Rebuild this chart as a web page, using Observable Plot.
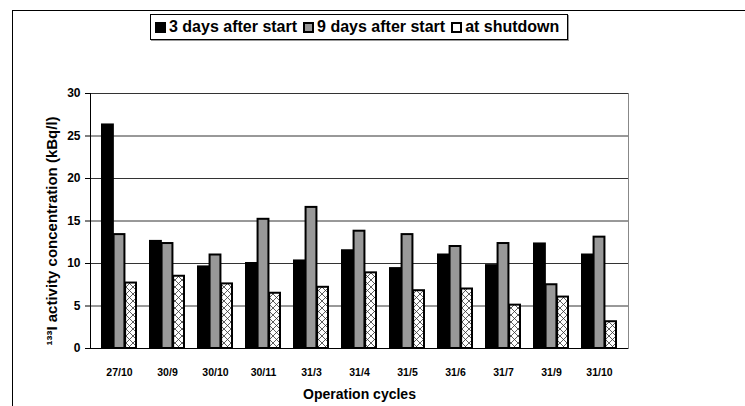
<!DOCTYPE html>
<html><head><meta charset="utf-8">
<script src="https://cdn.jsdelivr.net/npm/d3@7"></script>
<script src="https://cdn.jsdelivr.net/npm/@observablehq/plot@0.6"></script>
<style>
body{margin:0;background:#fff;font-family:"Liberation Sans",Arial,sans-serif;}
#wrap{position:relative;width:745px;height:406px;overflow:hidden;background:#fff;}
#frame{position:absolute;left:12px;top:10px;width:800px;height:500px;border-left:1.5px solid #000;border-top:1.5px solid #000;pointer-events:none;}
#legend{position:absolute;left:150px;top:14px;width:412px;height:24px;border:1px solid #000;box-shadow:1px 1px 0 #999;background:#fff;display:flex;align-items:center;font-weight:bold;font-size:16px;padding-left:4px;box-sizing:content-box;}
#legend .item{display:flex;align-items:center;gap:3px;white-space:nowrap;}
#legend .sw{width:7px;height:7px;border:2px solid #000;display:inline-block;}
#chart{position:absolute;left:0;top:0;}
</style></head>
<body>
<div id="wrap">
  <div id="chart"></div>
  <div id="frame"></div>
  <div id="legend"></div>
</div>
<script>
const categories = ["27/10","30/9","30/10","30/11","31/3","31/4","31/5","31/6","31/7","31/9","31/10"];
const seriesNames = ["3 days after start","9 days after start","at shutdown"];
const days3 = [26.3,12.6,9.6,10.0,10.3,11.5,9.4,11.0,9.75,12.3,11.0];
const days9 = [13.4,12.35,11.0,15.2,16.6,13.8,13.4,12.0,12.35,7.5,13.1];
const shutdown = [7.7,8.5,7.6,6.5,7.2,8.9,6.8,7.0,5.1,6.05,3.15];
const yTicks = [0,5,10,15,20,25,30];
const seriesFills = ["#000","#999","url(#xhatch)"];
const legendGaps = [0, 6, 6];

const W = 745, H = 406, mL = 90, mR = 117, mT = 93, mB = 58;
const pInner = 0.29, pOuter = 0.15;
const xs = Plot.scale({x:{type:"band", domain:categories, range:[mL, W-mR], paddingInner:pInner, paddingOuter:pOuter}});
const third = xs.bandwidth / 3;

const valuesBySeries = [days3, days9, shutdown];
const rows = valuesBySeries.map((vals, s) => categories.map((c, i) => ({cycle:c, series:seriesNames[s], value:vals[i]})));

const chart = Plot.plot({
  width: W, height: H,
  marginLeft: mL, marginRight: mR, marginTop: mT, marginBottom: mB,
  style: {fontFamily:"'Liberation Sans', Arial, sans-serif", fontWeight:"bold", color:"#000", background:"transparent"},
  x: {type:"band", domain:categories, paddingInner:pInner, paddingOuter:pOuter, axis:null},
  y: {domain:[0,30], axis:null},
  marks: [
    Plot.frame({stroke:"#888", strokeWidth:1}),
    Plot.ruleY(yTicks.slice(1), {stroke:"#333", strokeWidth:1}),
    ...rows.map((data, s) => Plot.barY(data, {
      x:"cycle", y:"value",
      fill: seriesFills[s], stroke:"#000", strokeWidth:2,
      insetLeft: s*third, insetRight: (2-s)*third
    })),
    Plot.ruleY([0], {stroke:"#000", strokeWidth:1}),
    Plot.frame({anchor:"left", stroke:"#000", strokeWidth:1}),
    Plot.axisY({ticks:yTicks, tickSize:5, tickPadding:5, fontSize:12, label:null}),
    Plot.axisX({tickSize:0, tickPadding:20, fontSize:10.5, label:null}),
    Plot.text(["¹³³I activity concentration (kBq/l)"], {frameAnchor:"left", textAnchor:"middle", rotate:-90, dx:-38, dy:10, fontSize:15, fontWeight:"bold", fill:"#000"}),
    Plot.text(["Operation cycles"], {frameAnchor:"bottom", dy:50, fontSize:14, fontWeight:"bold", fill:"#000"})
  ]
});

const svg = d3.select(chart);
svg.insert("defs", ":first-child").html(
  '<pattern id="xhatch" patternUnits="userSpaceOnUse" width="7" height="7">' +
  '<rect width="7" height="7" fill="#fff"/>' +
  '<path d="M0,0L7,7M7,0L0,7" stroke="#333" stroke-width="0.8"/></pattern>'
);
document.getElementById("chart").appendChild(chart);

const legend = d3.select("#legend");
seriesNames.forEach((name, s) => {
  const it = legend.append("div").attr("class","item").style("margin-left", legendGaps[s] + "px");
  it.append("span").attr("class","sw").style("background", s===2 ? "#fff" : seriesFills[s]);
  it.append("span").text(name);
});
</script>
</body></html>
